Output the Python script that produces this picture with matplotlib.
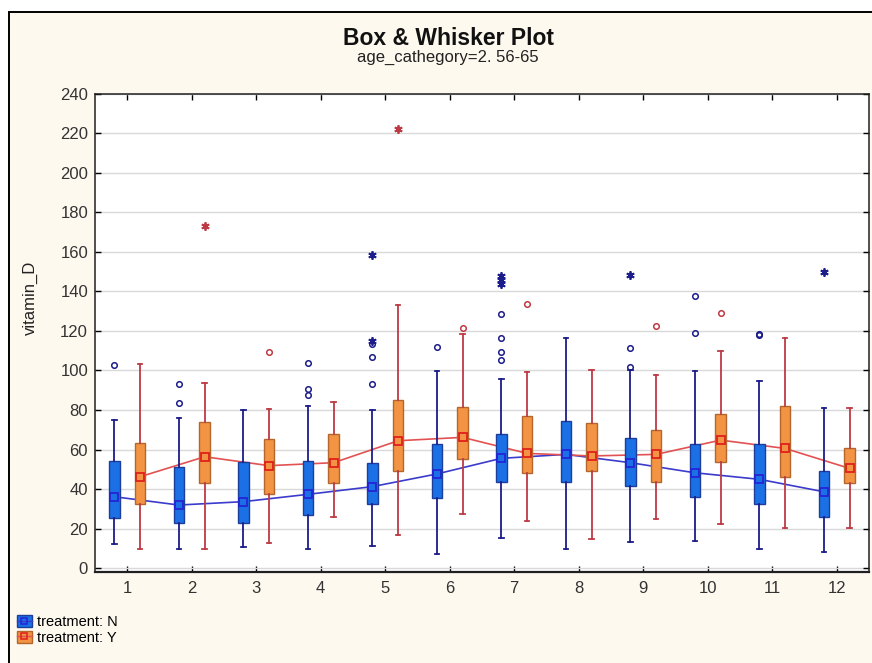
import matplotlib

matplotlib.use("Agg")
import matplotlib.pyplot as plt
from matplotlib.lines import Line2D
from matplotlib.patches import Patch, Rectangle

plt.rcParams.update(
    {
        "font.family": ["Liberation Sans", "DejaVu Sans"],
        "font.size": 12,
        "axes.unicode_minus": False,
    }
)

groups = list(range(1, 13))

# treatment N: quartiles, median, non-outlier range, outliers (o) and extremes (*)
n_q1 = [25.3, 23.1, 23.1, 26.9, 32.5, 35.4, 43.8, 43.8, 41.6, 36.2, 32.5, 26.1]
n_med = [36.2, 32.0, 33.7, 37.4, 41.3, 47.7, 55.6, 57.6, 53.4, 48.3, 45.0, 38.7]
n_q3 = [54.4, 51.4, 53.6, 54.4, 53.0, 62.8, 67.9, 74.4, 65.7, 62.8, 62.8, 49.3]
n_lo = [12.1, 9.8, 10.6, 9.8, 11.3, 7.1, 15.5, 9.8, 13.5, 14.0, 9.8, 8.4]
n_hi = [75.0, 75.8, 80.0, 82.2, 80.0, 99.9, 95.5, 116.2, 100.2, 99.9, 94.8, 81.2]
n_outliers = [
    [102.7], [93.1, 83.7], [], [103.6, 90.4, 87.6], [113.5, 106.6, 93.1], [112.0],
    [128.5, 116.5, 109.5, 105.3], [], [111.4, 101.6], [137.6, 119.2], [118.4, 117.9], [],
]
n_extremes = [
    [], [], [], [], [158.5, 115.0], [], [147.7, 145.5, 143.5], [], [148.5], [], [], [149.9],
]

# treatment Y
y_q1 = [32.5, 42.9, 37.4, 42.9, 49.3, 55.1, 48.0, 49.3, 43.8, 53.9, 46.0, 42.9]
y_med = [46.3, 56.4, 51.9, 53.4, 64.5, 66.2, 58.1, 56.8, 57.6, 64.8, 60.6, 50.5]
y_q3 = [63.2, 73.8, 65.2, 67.9, 85.0, 81.3, 77.1, 73.6, 69.9, 77.8, 82.0, 60.6]
y_lo = [9.8, 9.8, 12.6, 26.1, 16.8, 27.5, 24.1, 14.8, 24.8, 22.4, 20.5, 20.5]
y_hi = [103.2, 93.5, 80.5, 84.2, 133.0, 118.5, 99.0, 100.5, 97.7, 109.8, 116.2, 81.2]
y_outliers = [[], [], [109.5], [], [], [121.3], [133.6], [], [122.6], [129.2], [], []]
y_extremes = [[], [173.1], [], [], [222.2], [], [], [], [], [], [], []]

y_ticks = list(range(0, 241, 20))

BG = "#fdf9ef"
SERIES = {
    "N": dict(fill="#1b70e6", edge="#1d3f9c", whisker="#1c1c8a",
              line="#3b3bcc", marker="#2424d6", offset=-0.2),
    "Y": dict(fill="#f29443", edge="#b5662c", whisker="#bd3a44",
              line="#e25252", marker="#e0201c", offset=0.2),
}


def box_stats(q1, med, q3, lo, hi):
    return [
        dict(q1=a, med=b, q3=c, whislo=d, whishi=e, fliers=[])
        for a, b, c, d, e in zip(q1, med, q3, lo, hi)
    ]


def draw_series(ax, key, q1, med, q3, lo, hi, outliers, extremes):
    st = SERIES[key]
    pos = [g + st["offset"] for g in groups]
    ax.bxp(
        box_stats(q1, med, q3, lo, hi),
        positions=pos,
        widths=0.165,
        capwidths=0.07,
        patch_artist=True,
        showfliers=False,
        boxprops=dict(facecolor=st["fill"], edgecolor=st["edge"], linewidth=1.0),
        whiskerprops=dict(color=st["whisker"], linewidth=1.3),
        capprops=dict(color=st["whisker"], linewidth=1.3),
        medianprops=dict(linestyle="none"),
        zorder=3,
    )
    # median trace runs behind the boxes, markers sit on top
    ax.plot(pos, med, color=st["line"], linewidth=1.2, zorder=2)
    ax.plot(pos, med, linestyle="none", marker="s", markersize=5.5,
            markerfacecolor="none", markeredgecolor=st["marker"],
            markeredgewidth=1.3, zorder=4)
    for p, vals in zip(pos, outliers):
        if vals:
            ax.plot([p] * len(vals), vals, linestyle="none", marker="o",
                    markersize=4, markerfacecolor="none",
                    markeredgecolor=st["whisker"], markeredgewidth=1.1, zorder=4)
    for p, vals in zip(pos, extremes):
        if vals:
            ax.plot([p] * len(vals), vals, linestyle="none", marker=(6, 2, 0),
                    markersize=6, markeredgecolor=st["whisker"],
                    markeredgewidth=1.3, zorder=4)


fig = plt.figure(figsize=(8.72, 6.63), dpi=100)
fig.patch.set_facecolor("white")
fig.add_artist(
    Rectangle((9 / 872, -0.05), 1.1, 1.05 - 12 / 663, transform=fig.transFigure,
              facecolor=BG, edgecolor="black", linewidth=1.4, zorder=0)
)

ax = fig.add_axes([95 / 872, 1 - 572.3 / 663, 774 / 872, 478.8 / 663])
ax.set_facecolor("white")

draw_series(ax, "N", n_q1, n_med, n_q3, n_lo, n_hi, n_outliers, n_extremes)
draw_series(ax, "Y", y_q1, y_med, y_q3, y_lo, y_hi, y_outliers, y_extremes)

ax.set_xlim(0.5, 12.5)
ax.set_ylim(-2, 240)
ax.set_xticks(groups)
ax.set_xticklabels([str(g) for g in groups])
ax.set_yticks(y_ticks)
ax.yaxis.grid(True, color="#d9d9d9", linewidth=1.0, zorder=0)
ax.set_axisbelow(True)
ax.tick_params(direction="in", top=True, right=True, length=4, width=1,
               labelcolor="#333333", labelsize=12)
ax.tick_params(axis="x", pad=6)
ax.tick_params(axis="y", pad=5)
for side in ax.spines.values():
    side.set_color("#202020")
    side.set_linewidth(1.1)
ax.spines["bottom"].set_linewidth(1.6)

fig.text(448 / 872, 1 - 45 / 663, "Box & Whisker Plot", ha="center",
         va="baseline", fontsize=16.5, fontweight="bold", color="#111111")
fig.text(448 / 872, 1 - 62 / 663, "age_cathegory=2. 56-65", ha="center",
         va="baseline", fontsize=12, color="#222222")
fig.text(30 / 872, 1 - 298 / 663, "vitamin_D", rotation=90, ha="center",
         va="center", fontsize=12, color="#222222")

handles = []
for key in ("N", "Y"):
    st = SERIES[key]
    handles.append(
        (
            Patch(facecolor=st["fill"], edgecolor=st["edge"], linewidth=1.0),
            Line2D([], [], color=st["line"], linewidth=1.0, marker="s",
                   markersize=5, markerfacecolor="none",
                   markeredgecolor=st["marker"], markeredgewidth=1.1),
        )
    )
fig.legend(
    handles,
    ["treatment: N", "treatment: Y"],
    loc="upper left",
    bbox_to_anchor=(17 / 872, 1 - 615 / 663),
    frameon=False,
    fontsize=10.5,
    handlelength=1.0,
    handleheight=0.9,
    handletextpad=0.4,
    labelspacing=0.1,
    borderpad=0,
    borderaxespad=0,
)

fig.savefig("out.png", dpi=100, facecolor=fig.get_facecolor())
